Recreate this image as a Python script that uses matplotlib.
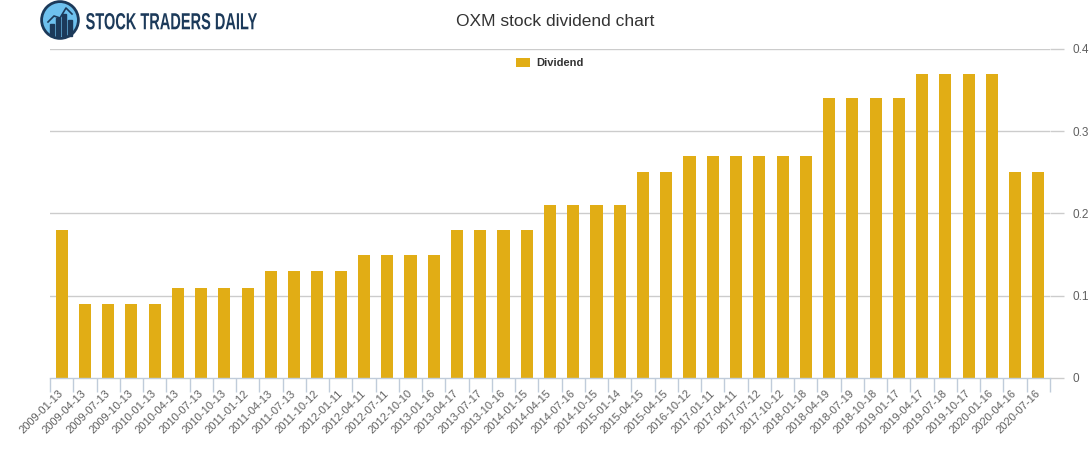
import matplotlib
matplotlib.use("Agg")
import matplotlib.pyplot as plt
from matplotlib.patches import Circle, Rectangle, PathPatch
from matplotlib.textpath import TextPath
from matplotlib.font_manager import FontProperties
from matplotlib.transforms import Affine2D
import numpy as np

plt.rcParams["font.family"] = ["Liberation Sans", "DejaVu Sans"]

dates = ["2009-01-13", "2009-04-13", "2009-07-13", "2009-10-13", "2010-01-13",
         "2010-04-13", "2010-07-13", "2010-10-13", "2011-01-12", "2011-04-13",
         "2011-07-13", "2011-10-12", "2012-01-11", "2012-04-11", "2012-07-11",
         "2012-10-10", "2013-01-16", "2013-04-17", "2013-07-17", "2013-10-16",
         "2014-01-15", "2014-04-15", "2014-07-16", "2014-10-15", "2015-01-14",
         "2015-04-15", "2015-04-15", "2016-10-12", "2017-01-11", "2017-04-11",
         "2017-07-12", "2017-10-12", "2018-01-18", "2018-04-19", "2018-07-19",
         "2018-10-18", "2019-01-17", "2019-04-17", "2019-07-18", "2019-10-17",
         "2020-01-16", "2020-04-16", "2020-07-16"]
dividends = [0.18, 0.09, 0.09, 0.09, 0.09,
             0.11, 0.11, 0.11, 0.11, 0.13,
             0.13, 0.13, 0.13, 0.15, 0.15,
             0.15, 0.15, 0.18, 0.18, 0.18,
             0.18, 0.21, 0.21, 0.21, 0.21,
             0.25, 0.25, 0.27, 0.27, 0.27,
             0.27, 0.27, 0.27, 0.34, 0.34,
             0.34, 0.34, 0.37, 0.37, 0.37,
             0.37, 0.25, 0.25]
yticks = [0, 0.1, 0.2, 0.3, 0.4]
ytick_labels = ["0", "0.1", "0.2", "0.3", "0.4"]

bar_color = "#E1AD15"
W, H = 1091, 450
fig = plt.figure(figsize=(W / 100, H / 100), dpi=100)
ax = fig.add_axes([50 / W, 1 - 378 / H, 1000 / W, (378 - 49) / H])

x = np.arange(len(dates))
ax.bar(x, dividends, width=0.52, color=bar_color, zorder=2, label="Dividend")
ax.set_xlim(-0.5, len(dates) - 0.5)
ax.set_ylim(0, 0.4)

for s in ["top", "left", "right"]:
    ax.spines[s].set_visible(False)
ax.spines["bottom"].set_color("#C0CCDA")
ax.spines["bottom"].set_linewidth(1)

ax.yaxis.tick_right()
ax.set_yticks(yticks)
ax.set_yticklabels(ytick_labels)
ax.tick_params(axis="y", length=10, color="#CCCCCC", labelcolor="#606060",
               labelsize=8.5, pad=6, width=1)
for yv in yticks[1:]:
    ax.axhline(yv, color="#CCCCCC", lw=1, zorder=1)

ax.set_xticks(x)
ax.set_xticklabels(dates, rotation=45, ha="right", va="center",
                   rotation_mode="anchor")
ax.set_xticks(np.arange(-0.5, len(dates), 1.0), minor=True)
ax.tick_params(axis="x", which="major", length=0, labelcolor="#606060",
               labelsize=8, pad=10)
ax.tick_params(axis="x", which="minor", length=10, color="#C0CCDA", width=1)

fig.text(555 / W, 1 - 22 / H, "OXM stock dividend chart", ha="center",
         va="center", fontsize=12.5, color="#333333")

leg = ax.legend(loc="upper center", bbox_to_anchor=(0.5, 1.0), frameon=False,
                fontsize=8, handlelength=1.2, handleheight=0.9,
                handletextpad=0.6, borderaxespad=0.4)
for t in leg.get_texts():
    t.set_fontweight("bold")
    t.set_color("#333333")

# logo
lax = fig.add_axes([40 / W, 1 - 40 / H, 40 / W, 40 / H])
lax.set_xlim(0, 1)
lax.set_ylim(0, 1)
lax.set_aspect("equal")
lax.axis("off")
lax.add_patch(Circle((0.5, 0.5), 0.46, facecolor="#6EC1EE", edgecolor="#1C3A5A", lw=2))
for bx, bh in zip([0.25, 0.4, 0.55, 0.7], [0.3, 0.45, 0.55, 0.4]):
    lax.add_patch(Rectangle((bx, 0.1), 0.1, bh, color="#1C3A5A"))
lax.plot([0.2, 0.35, 0.5, 0.65, 0.8], [0.45, 0.6, 0.55, 0.8, 0.65],
         color="#1C3A5A", lw=1.2)

# logo text, horizontally condensed, in pixel coordinates
tax = fig.add_axes([0, 0, 1, 1])
tax.set_xlim(0, W)
tax.set_ylim(H, 0)
tax.axis("off")
tp = TextPath((0, 0), "STOCK TRADERS DAILY", size=1,
              prop=FontProperties(family="Liberation Sans", weight="bold"))
ext = tp.get_extents()
sx = 171 / ext.width
sy = 16.5 / ext.height
tr = Affine2D().translate(-ext.x0, -ext.y0).scale(sx, -sy).translate(86, 29.5)
tax.add_patch(PathPatch(tr.transform_path(tp), facecolor="#1C3A5A",
                        edgecolor="none"))

fig.savefig("out.png", dpi=100)
